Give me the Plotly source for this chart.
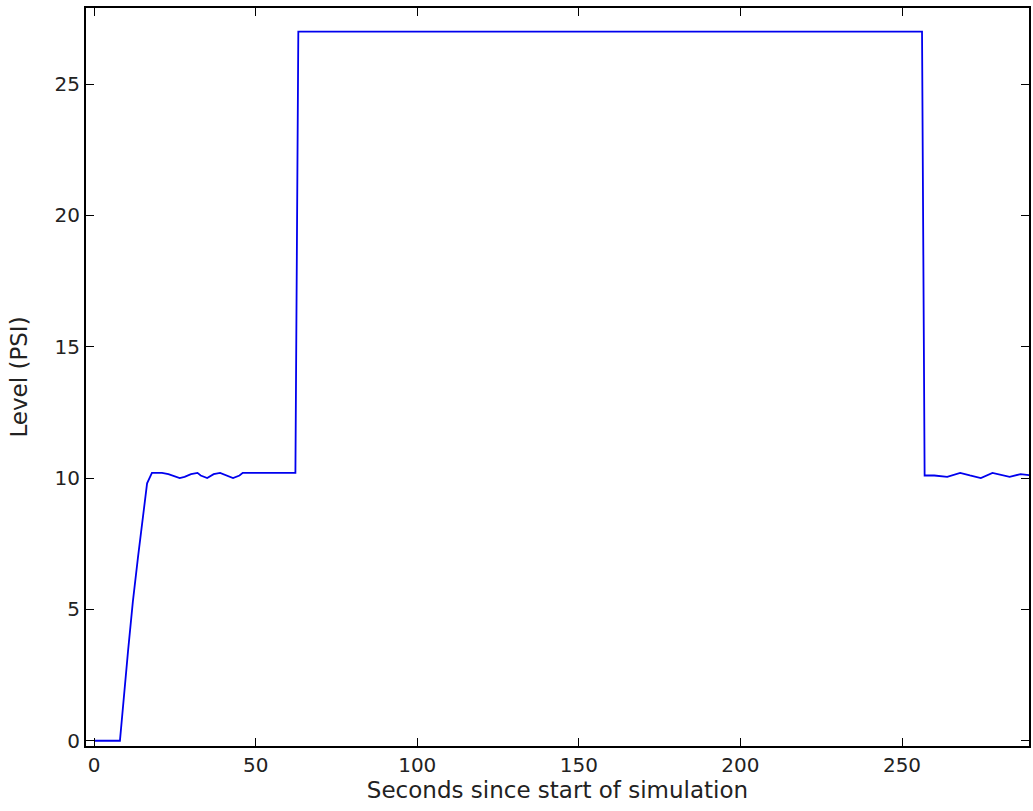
import plotly.graph_objects as go

# Data
time_s = [0, 8.0, 10.5, 12.0, 13.6, 15.1, 16.4, 17.9, 19, 21, 23, 25, 26.5, 28, 30,
          32, 33, 35, 37, 39, 41, 43, 45, 46, 55, 62.3, 63.2, 256.2, 257, 260, 264,
          268, 271, 274.4, 278, 281, 283.3, 286.7, 290]
level_psi = [0, 0, 3.4, 5.3, 7.0, 8.5, 9.8, 10.2, 10.2, 10.2, 10.15, 10.05, 10.0, 10.05,
             10.15, 10.2, 10.1, 10.0, 10.15, 10.2, 10.1, 10.0, 10.1, 10.2, 10.2, 10.2,
             27, 27, 10.1, 10.1, 10.05, 10.2, 10.1, 10.0, 10.2, 10.1, 10.05, 10.15, 10.1]

x_ticks = [0, 50, 100, 150, 200, 250]
y_ticks = [0, 5, 10, 15, 20, 25]

fig = go.Figure()
fig.add_trace(go.Scatter(x=time_s, y=level_psi, mode="lines",
                         line=dict(color="#0000ee", width=1.8), showlegend=False))

tick_font = dict(family="DejaVu Sans", size=20, color="#222222")
title_font = dict(family="DejaVu Sans", size=23, color="#222222")
axis_common = dict(showgrid=False, zeroline=False, showline=True, linecolor="black",
                   linewidth=2, mirror="ticks", ticks="inside", ticklen=8,
                   tickwidth=1, tickcolor="black", tickfont=tick_font)

fig.update_layout(
    width=1033, height=811,
    margin=dict(l=86, r=2, t=8, b=65),
    plot_bgcolor="white", paper_bgcolor="white",
    xaxis=dict(range=[-2.5, 289.3], tickvals=x_ticks,
               title=dict(text="Seconds since start of simulation", font=title_font, standoff=6),
               **axis_common),
    yaxis=dict(range=[-0.2, 27.9], tickvals=y_ticks,
               title=dict(text="Level (PSI)", font=title_font, standoff=20),
               **axis_common),
)

fig.write_html("out.html", config={"displayModeBar": False},
               post_script="document.body.style.margin='0';")
